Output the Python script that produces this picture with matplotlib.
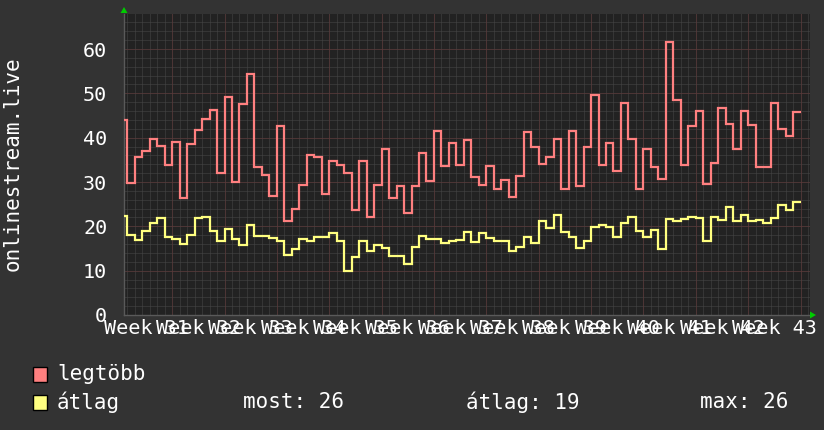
import numpy as np
import matplotlib
matplotlib.use("Agg")
import matplotlib.pyplot as plt
from matplotlib.patches import Rectangle, Polygon

plt.rcParams['font.family'] = ['DejaVu Sans Mono', 'DejaVu Sans']

# daily values (first one is a partial day at the left edge)
legtobb = [44.0, 29.7, 35.7, 37.1, 39.8, 38.1, 33.9, 39.1, 26.4, 38.5, 41.8, 44.2, 46.3, 32.1,
           49.2, 29.9, 47.6, 54.3, 33.3, 31.5, 26.9, 42.7, 21.3,
           24.0, 29.4, 36.0, 35.6, 27.3, 34.8, 33.9, 32.1, 23.7, 34.8, 22.1, 29.4, 37.5, 26.4,
           29.0, 23.1, 29.2, 36.6, 30.2, 41.6, 33.5, 38.9, 33.9,
           39.4, 31.2, 29.4, 33.6, 28.5, 30.5, 26.7, 31.3, 41.3, 37.8, 34.1, 35.6, 39.8, 28.5,
           41.5, 29.0, 37.8, 49.7, 33.9, 38.9, 32.5, 47.9,
           39.6, 28.4, 37.4, 33.3, 30.7, 61.5, 48.4, 33.9, 42.7, 46.1, 29.6, 34.4, 46.7, 43.1,
           37.5, 46.1, 42.9, 33.3, 33.3, 47.9, 41.9, 40.3, 45.8]
atlag = [22.3, 18.1, 16.9, 19.0, 20.7, 21.9, 17.6, 17.2, 16.1, 18.1, 21.9, 22.1, 19.0, 16.6,
         19.4, 17.2, 15.9, 20.4, 17.9, 17.8, 17.3, 16.8, 13.5,
         15.0, 17.2, 16.6, 17.5, 17.7, 18.6, 16.8, 10.0, 13.1, 16.8, 14.5, 15.8, 15.1, 13.2,
         13.2, 11.4, 15.4, 17.8, 17.1, 17.2, 16.3, 16.6, 16.9,
         18.7, 16.5, 18.6, 17.4, 16.8, 16.6, 14.4, 15.3, 17.7, 16.2, 21.1, 19.7, 22.6, 18.7,
         17.6, 15.1, 16.6, 19.8, 20.4, 19.9, 17.5, 20.7,
         22.2, 19.0, 17.5, 19.2, 15.0, 21.6, 21.3, 21.7, 22.1, 21.9, 16.8, 22.1, 21.4, 24.4,
         21.1, 22.6, 21.1, 21.4, 20.7, 21.9, 24.9, 23.6, 25.5]
weeks = list(range(31, 44))
week_labels = ["Week %d" % w for w in weeks]
summary = [("most", 26), ("átlag", 19), ("max", 26)]

W, H = 824, 430
bg = '#333333'
canvas = '#222222'
red = '#ff8080'
yellow = '#ffff80'

def px(x, y):
    return (x / W, 1 - y / H)

fig = plt.figure(figsize=(W / 100, H / 100), dpi=100, facecolor=bg)
ax = fig.add_axes([124 / W, 115 / H, 686 / W, 301 / H], facecolor=canvas)

x0, x1 = -0.44, 91.27
ymax = 67.9
ax.set_xlim(x0, x1)
ax.set_ylim(0, ymax)

# grid (dotted, rrdtool style)
days = np.arange(0, 92)
week_lines = 6 + 7 * np.arange(13)
grid_kw = dict(linestyles=(0, (1, 1)), lw=0.72)
ax.vlines(days, 0, ymax, colors='#484848', zorder=1, **grid_kw)
ax.hlines(np.arange(2, 68, 2), x0, x1, colors='#484848', zorder=1, **grid_kw)
ax.vlines(week_lines, 0, ymax, colors='#633636', zorder=1.5, **grid_kw)
ax.hlines(np.arange(10, 70, 10), x0, x1, colors='#633636', zorder=1.5, **grid_kw)

edges = np.concatenate([[x0], np.arange(0, len(legtobb))])
ax.stairs(legtobb, edges, baseline=None, color=red, lw=1.6, zorder=3)
ax.stairs(atlag, edges, baseline=None, color=yellow, lw=1.6, zorder=3)

ax.set_yticks(range(0, 70, 10))
ax.set_yticklabels([str(v) for v in range(0, 70, 10)], fontsize=14.5, color='white')
ax.set_xticks(week_lines - 3.5)
ax.set_xticklabels(week_labels, fontsize=14.5, color='white')
ax.tick_params(axis='y', length=0, pad=12)
ax.tick_params(axis='x', length=0, pad=3)
for s in ['top', 'right']:
    ax.spines[s].set_visible(False)
for s in ['left', 'bottom']:
    ax.spines[s].set_color('#5a5a5a')
    ax.spines[s].set_linewidth(1)

# arrows
fig.add_artist(Polygon([px(120.5, 13), px(127.5, 13), px(124, 7)], closed=True,
                       transform=fig.transFigure, fc='#00cc00', ec='none'))
fig.add_artist(Polygon([px(810, 311.5), px(810, 318.5), px(816, 315)], closed=True,
                       transform=fig.transFigure, fc='#00cc00', ec='none'))

fig.text(*px(13, 164), 'onlinestream.live', rotation=90, ha='center', va='center',
         fontsize=15, color='white')

# legend
rows = [(374, 'legtöbb', red), (402, 'átlag', yellow)]
for yc, name, col in rows:
    fig.add_artist(Rectangle(px(33, yc + 7.5), 14 / W, 15 / H, transform=fig.transFigure,
                             fc=col, ec='black', lw=1))
    fig.text(*px(57, yc), name, ha='left', va='center', fontsize=15, color='white')

for xpos, (name, val) in zip([243, 466, 700], summary):
    fig.text(*px(xpos, 402), "%s: %d" % (name, val), ha='left', va='center',
             fontsize=15, color='white')

fig.savefig('out.png', dpi=100, facecolor=bg)
